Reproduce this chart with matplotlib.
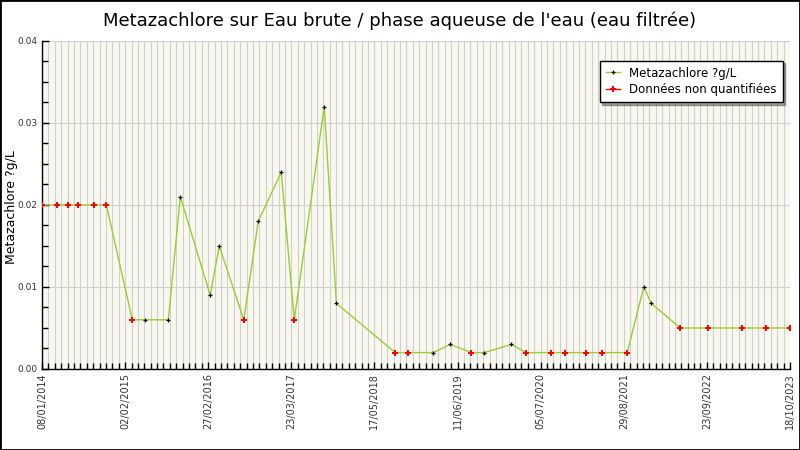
import numpy as np
import pandas as pd
import matplotlib
matplotlib.use("Agg")
import matplotlib.pyplot as plt
import matplotlib.dates as mdates
from matplotlib.lines import Line2D
from matplotlib.patches import Rectangle

# sample dates, values and whether the value was quantified
dates = ["2014-01-08", "2014-03-22", "2014-05-13", "2014-06-30", "2014-09-12",
         "2014-11-11", "2015-03-15", "2015-05-16", "2015-09-03", "2015-10-30",
         "2016-03-21", "2016-05-03", "2016-08-28", "2016-11-05", "2017-02-23",
         "2017-04-26", "2017-09-16", "2017-11-13", "2018-08-21", "2018-10-22",
         "2019-02-19", "2019-05-11", "2019-08-19", "2019-10-20", "2020-02-26",
         "2020-05-07", "2020-09-04", "2020-11-10", "2021-02-18", "2021-05-05",
         "2021-09-01", "2021-11-19", "2021-12-25", "2022-05-12", "2022-09-23",
         "2023-03-04", "2023-06-27", "2023-10-18"]
values = [0.02, 0.02, 0.02, 0.02, 0.02,
          0.02, 0.006, 0.006, 0.006, 0.021,
          0.009, 0.015, 0.006, 0.018, 0.024,
          0.006, 0.032, 0.008, 0.002, 0.002,
          0.002, 0.003, 0.002, 0.002, 0.003,
          0.002, 0.002, 0.002, 0.002, 0.002,
          0.002, 0.010, 0.008, 0.005, 0.005,
          0.005, 0.005, 0.005]
non_quant = [1, 1, 1, 1, 1,
             1, 1, 0, 0, 0,
             0, 0, 1, 0, 0,
             1, 0, 0, 1, 1,
             0, 0, 1, 0, 0,
             1, 1, 1, 1, 1,
             1, 0, 0, 1, 1,
             1, 1, 1]
tick_labels = ["08/01/2014", "02/02/2015", "27/02/2016", "23/03/2017", "17/05/2018",
               "11/06/2019", "05/07/2020", "29/08/2021", "23/09/2022", "18/10/2023"]

x = mdates.date2num(pd.to_datetime(dates))
y = np.array(values)
nq = np.array(non_quant, dtype=bool)

fig = plt.figure(figsize=(8, 4.5), dpi=100)
ax = fig.add_axes([0.0525, 0.18, 0.935, 0.729])
ax.set_facecolor("#f8f8ef")

ax.plot(x, y, color="#9acd32", lw=1, zorder=3)
ax.plot(x[~nq], y[~nq], ls="none", marker="+", ms=3, mew=0.9, color="black", zorder=4)
ax.plot(x[nq], y[nq], ls="none", marker="P", ms=4.8, mew=0, color="red", zorder=5)

ax.set_xlim(x[0], x[-1])
ax.set_ylim(0, 0.04)
major = np.linspace(x[0], x[-1], 10)
ax.set_xticks(major)
ax.set_xticklabels(tick_labels, rotation=90, fontsize=7, color="#333333")
ax.set_xticks(np.linspace(x[0], x[-1], 9 * 13 + 1), minor=True)
ax.set_yticks([0, 0.01, 0.02, 0.03, 0.04])
ax.set_yticklabels(["0.00", "0.01", "0.02", "0.03", "0.04"], fontsize=6.5, color="#333333")
ax.set_yticks(np.arange(0, 0.0401, 0.0025), minor=True)

ax.grid(True, which="both", axis="x", color="#d0d0d0", lw=0.8)
ax.grid(True, which="major", axis="y", color="#d0d0d0", lw=0.8)
ax.set_axisbelow(True)
ax.tick_params(which="both", direction="in", color="black", width=1)
ax.tick_params(which="major", length=5, pad=3)
ax.tick_params(which="minor", length=4)
ax.tick_params(axis="x", which="both", top=False)
ax.tick_params(axis="y", which="both", right=False)
for s in ["top", "right"]:
    ax.spines[s].set_visible(False)
for s in ["left", "bottom"]:
    ax.spines[s].set_color("black")
    ax.spines[s].set_linewidth(1)

fig.text(12 / 800, 1 - 207 / 450, "Metazachlore ?g/L", rotation=90,
         ha="center", va="center", fontsize=9)
fig.text(0.5, 0.955, "Metazachlore sur Eau brute / phase aqueuse de l'eau (eau filtrée)",
         ha="center", va="center", fontsize=13)

h1 = Line2D([], [], color="#9acd32", lw=1, marker="+", ms=3, mew=0.9, mec="black")
h2 = Line2D([], [], color="red", lw=1, marker="P", ms=4.8, mew=0, mfc="red")
leg = ax.legend([h1, h2], ["Metazachlore ?g/L", "Données non quantifiées"],
                loc="upper right", bbox_to_anchor=(0.99, 0.94), fontsize=8.5,
                handlelength=1.2, fancybox=False, shadow=True, framealpha=1,
                borderpad=0.5, labelspacing=0.3, borderaxespad=0)
leg.get_frame().set_edgecolor("black")
leg.get_frame().set_linewidth(1)

fig.patches.append(Rectangle((0, 0), 1, 1, transform=fig.transFigure,
                             fill=False, ec="black", lw=2))
fig.savefig("out.png", dpi=100, facecolor="white")
